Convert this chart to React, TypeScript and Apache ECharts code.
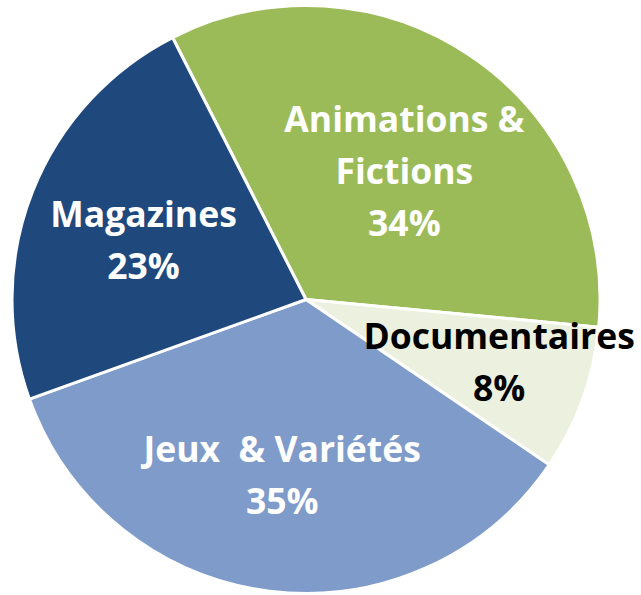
import React, { useEffect, useRef } from "react";
import * as echarts from "echarts";

const categories = ["Animations &\nFictions", "Documentaires", "Jeux  & Variétés", "Magazines"];
const values = [34, 8, 35, 23];
const colors = ["#9BBB59", "#EBF1DE", "#7E9BC9", "#1F497D"];
const labelColors = ["#FFFFFF", "#000000", "#FFFFFF", "#FFFFFF"];
const labelOffsets = [
  [14, -5],
  [52, 11],
  [-5, 26],
  [-23, -5],
];

export default function App() {
  const ref = useRef<HTMLDivElement>(null);
  useEffect(() => {
    if (!ref.current) return;
    const chart = echarts.init(ref.current, null, { renderer: "svg" });
    chart.setOption({
      animation: false,
      backgroundColor: "#FFFFFF",
      series: [
        {
          type: "pie",
          center: [306, 299.5],
          radius: [0, 294],
          startAngle: 117,
          clockwise: true,
          avoidLabelOverlap: false,
          itemStyle: { borderColor: "#FFFFFF", borderWidth: 3 },
          emphasis: { disabled: true },
          label: {
            show: true,
            position: "inside",
            fontFamily: "Open Sans",
            fontWeight: "bold",
            fontSize: 35.5,
            lineHeight: 52,
            align: "center",
            formatter: (p: any) => `${p.name}\n${p.value}%`,
          },
          labelLine: { show: false },
          data: categories.map((c, i) => ({
            name: c,
            value: values[i],
            itemStyle: { color: colors[i] },
            label: { color: labelColors[i], offset: labelOffsets[i] },
          })),
        },
      ],
    });
    return () => chart.dispose();
  }, []);
  return (
    <div
      ref={ref}
      style={{ position: "fixed", left: 0, top: 0, width: 641, height: 595 }}
    />
  );
}
